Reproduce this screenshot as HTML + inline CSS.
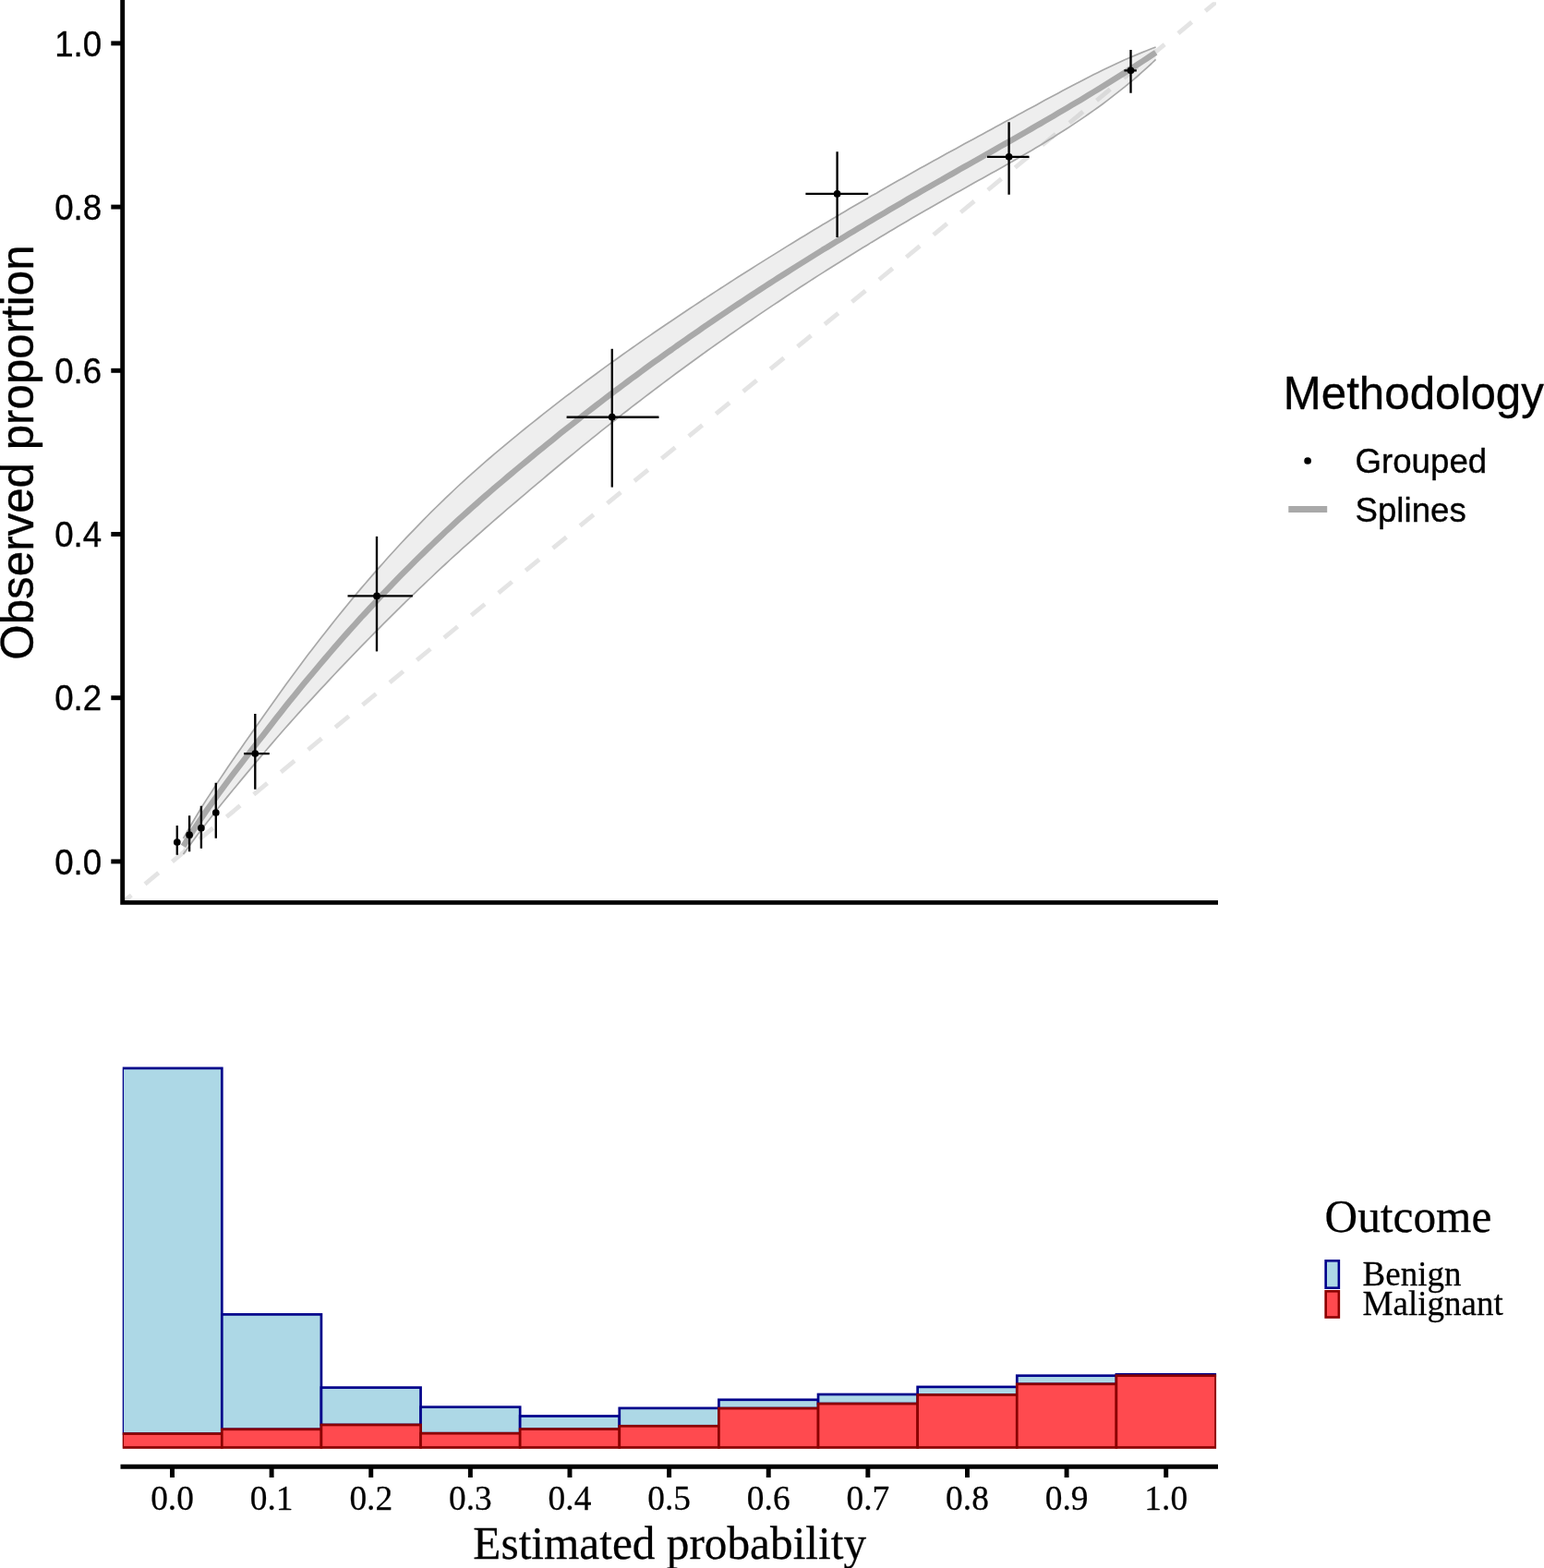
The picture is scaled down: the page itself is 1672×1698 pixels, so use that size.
<!DOCTYPE html>
<html lang="en"><head><meta charset="utf-8"><title>Calibration plot</title>
<style>html,body{margin:0;padding:0;background:#fff}body{width:1672px;height:1698px;overflow:hidden}svg{display:block}.sans{font-family:"Liberation Sans",sans-serif}.serif{font-family:"Liberation Serif",serif}text{fill:#000}</style></head><body>
<svg width="1672" height="1698" viewBox="0 0 1672 1698">
<rect width="1672" height="1698" fill="#fff"/>
<defs><clipPath id="p1"><rect x="132.70" y="2.30" width="1184.30" height="975.03"/></clipPath></defs>
<g clip-path="url(#p1)">
<line x1="132.70" y1="977.33" x2="1316.85" y2="2.30" stroke="#e4e4e4" stroke-width="4.8" stroke-dasharray="19.07 19.07" stroke-dashoffset="6.64"/>
<path d="M198.5,907.8 L203.3,899.4 L208.1,891.2 L212.9,883.2 L217.7,875.3 L222.5,867.6 L227.4,860.1 L232.2,852.7 L237.0,845.4 L241.8,838.2 L246.6,831.1 L251.4,824.1 L256.2,817.1 L261.0,810.2 L265.8,803.3 L270.6,796.4 L275.4,789.5 L280.2,782.7 L285.1,775.8 L289.9,769.0 L294.7,762.2 L299.5,755.4 L304.3,748.7 L309.1,742.1 L313.9,735.5 L318.7,729.0 L323.5,722.5 L328.3,716.0 L333.1,709.6 L338.0,703.3 L342.8,697.1 L347.6,690.8 L352.4,684.7 L357.2,678.6 L362.0,672.5 L366.8,666.5 L371.6,660.6 L376.4,654.7 L381.2,648.9 L386.0,643.1 L390.8,637.4 L395.7,631.7 L400.5,626.1 L405.3,620.6 L410.1,615.1 L414.9,609.7 L419.7,604.3 L424.5,599.0 L429.3,593.7 L434.1,588.5 L438.9,583.4 L443.7,578.3 L448.6,573.3 L453.4,568.3 L458.2,563.4 L463.0,558.5 L467.8,553.7 L472.6,549.0 L477.4,544.3 L482.2,539.6 L487.0,535.1 L491.8,530.5 L496.6,526.0 L501.4,521.6 L506.3,517.2 L511.1,512.9 L515.9,508.6 L520.7,504.4 L525.5,500.2 L530.3,496.0 L535.1,491.9 L539.9,487.8 L544.7,483.8 L549.5,479.8 L554.3,475.8 L559.2,471.9 L564.0,467.9 L568.8,464.0 L573.6,460.2 L578.4,456.3 L583.2,452.5 L588.0,448.7 L592.8,444.9 L597.6,441.1 L602.4,437.4 L607.2,433.6 L612.0,429.9 L616.9,426.3 L621.7,422.6 L626.5,419.0 L631.3,415.4 L636.1,411.8 L640.9,408.2 L645.7,404.7 L650.5,401.1 L655.3,397.6 L660.1,394.1 L664.9,390.7 L669.8,387.2 L674.6,383.8 L679.4,380.4 L684.2,377.0 L689.0,373.6 L693.8,370.3 L698.6,366.9 L703.4,363.6 L708.2,360.3 L713.0,357.0 L717.8,353.7 L722.6,350.5 L727.5,347.2 L732.3,344.0 L737.1,340.8 L741.9,337.5 L746.7,334.3 L751.5,331.1 L756.3,328.0 L761.1,324.8 L765.9,321.6 L770.7,318.5 L775.5,315.4 L780.3,312.2 L785.2,309.1 L790.0,306.0 L794.8,302.9 L799.6,299.8 L804.4,296.8 L809.2,293.7 L814.0,290.7 L818.8,287.6 L823.6,284.6 L828.4,281.6 L833.2,278.6 L838.1,275.6 L842.9,272.6 L847.7,269.6 L852.5,266.6 L857.3,263.7 L862.1,260.7 L866.9,257.8 L871.7,254.9 L876.5,252.0 L881.3,249.0 L886.1,246.2 L890.9,243.3 L895.8,240.4 L900.6,237.5 L905.4,234.7 L910.2,231.8 L915.0,229.0 L919.8,226.1 L924.6,223.3 L929.4,220.5 L934.2,217.7 L939.0,214.9 L943.8,212.1 L948.7,209.4 L953.5,206.6 L958.3,203.8 L963.1,201.1 L967.9,198.3 L972.7,195.6 L977.5,192.9 L982.3,190.2 L987.1,187.5 L991.9,184.8 L996.7,182.1 L1001.5,179.4 L1006.4,176.7 L1011.2,174.1 L1016.0,171.4 L1020.8,168.8 L1025.6,166.1 L1030.4,163.5 L1035.2,160.9 L1040.0,158.2 L1044.8,155.6 L1049.6,153.0 L1054.4,150.4 L1059.3,147.8 L1064.1,145.2 L1068.9,142.6 L1073.7,140.0 L1078.5,137.3 L1083.3,134.7 L1088.1,132.1 L1092.9,129.5 L1097.7,126.9 L1102.5,124.3 L1107.3,121.7 L1112.1,119.1 L1117.0,116.5 L1121.8,113.9 L1126.6,111.2 L1131.4,108.6 L1136.2,106.0 L1141.0,103.4 L1145.8,100.9 L1150.6,98.3 L1155.4,95.7 L1160.2,93.2 L1165.0,90.7 L1169.9,88.2 L1174.7,85.7 L1179.5,83.3 L1184.3,80.8 L1189.1,78.4 L1193.9,76.1 L1198.7,73.8 L1203.5,71.5 L1208.3,69.2 L1213.1,67.0 L1217.9,64.8 L1222.7,62.7 L1227.6,60.6 L1232.4,58.6 L1237.2,56.6 L1242.0,54.7 L1246.8,52.8 L1251.6,51.0 L1251.6,64.4 L1246.8,69.0 L1242.0,73.4 L1237.2,77.7 L1232.4,82.0 L1227.6,86.1 L1222.7,90.1 L1217.9,94.1 L1213.1,97.9 L1208.3,101.7 L1203.5,105.4 L1198.7,109.1 L1193.9,112.7 L1189.1,116.2 L1184.3,119.6 L1179.5,123.0 L1174.7,126.4 L1169.9,129.6 L1165.0,132.9 L1160.2,136.1 L1155.4,139.2 L1150.6,142.3 L1145.8,145.3 L1141.0,148.4 L1136.2,151.3 L1131.4,154.3 L1126.6,157.2 L1121.8,160.0 L1117.0,162.9 L1112.1,165.7 L1107.3,168.5 L1102.5,171.2 L1097.7,174.0 L1092.9,176.7 L1088.1,179.5 L1083.3,182.2 L1078.5,184.9 L1073.7,187.5 L1068.9,190.2 L1064.1,192.9 L1059.3,195.6 L1054.4,198.3 L1049.6,201.0 L1044.8,203.7 L1040.0,206.4 L1035.2,209.1 L1030.4,211.8 L1025.6,214.5 L1020.8,217.2 L1016.0,220.0 L1011.2,222.7 L1006.4,225.5 L1001.5,228.2 L996.7,231.0 L991.9,233.8 L987.1,236.6 L982.3,239.4 L977.5,242.3 L972.7,245.1 L967.9,248.0 L963.1,250.8 L958.3,253.7 L953.5,256.6 L948.7,259.5 L943.8,262.4 L939.0,265.4 L934.2,268.3 L929.4,271.3 L924.6,274.2 L919.8,277.2 L915.0,280.2 L910.2,283.2 L905.4,286.2 L900.6,289.2 L895.8,292.3 L890.9,295.4 L886.1,298.4 L881.3,301.5 L876.5,304.6 L871.7,307.7 L866.9,310.8 L862.1,314.0 L857.3,317.1 L852.5,320.3 L847.7,323.5 L842.9,326.7 L838.1,329.9 L833.2,333.1 L828.4,336.4 L823.6,339.6 L818.8,342.9 L814.0,346.2 L809.2,349.5 L804.4,352.8 L799.6,356.1 L794.8,359.5 L790.0,362.8 L785.2,366.2 L780.3,369.6 L775.5,373.0 L770.7,376.4 L765.9,379.8 L761.1,383.3 L756.3,386.8 L751.5,390.3 L746.7,393.8 L741.9,397.3 L737.1,400.8 L732.3,404.3 L727.5,407.9 L722.6,411.5 L717.8,415.1 L713.0,418.7 L708.2,422.3 L703.4,426.0 L698.6,429.6 L693.8,433.3 L689.0,437.0 L684.2,440.7 L679.4,444.5 L674.6,448.2 L669.8,452.0 L664.9,455.8 L660.1,459.6 L655.3,463.4 L650.5,467.2 L645.7,471.1 L640.9,474.9 L636.1,478.8 L631.3,482.7 L626.5,486.7 L621.7,490.6 L616.9,494.5 L612.0,498.5 L607.2,502.5 L602.4,506.5 L597.6,510.5 L592.8,514.5 L588.0,518.6 L583.2,522.6 L578.4,526.7 L573.6,530.7 L568.8,534.8 L564.0,538.9 L559.2,543.0 L554.3,547.1 L549.5,551.2 L544.7,555.3 L539.9,559.5 L535.1,563.6 L530.3,567.8 L525.5,572.0 L520.7,576.3 L515.9,580.5 L511.1,584.8 L506.3,589.1 L501.4,593.4 L496.6,597.8 L491.8,602.1 L487.0,606.5 L482.2,611.0 L477.4,615.4 L472.6,619.9 L467.8,624.5 L463.0,629.0 L458.2,633.6 L453.4,638.2 L448.6,642.8 L443.7,647.5 L438.9,652.1 L434.1,656.8 L429.3,661.6 L424.5,666.3 L419.7,671.1 L414.9,675.9 L410.1,680.8 L405.3,685.6 L400.5,690.5 L395.7,695.4 L390.8,700.4 L386.0,705.3 L381.2,710.3 L376.4,715.3 L371.6,720.4 L366.8,725.4 L362.0,730.5 L357.2,735.6 L352.4,740.8 L347.6,745.9 L342.8,751.1 L338.0,756.3 L333.1,761.6 L328.3,766.8 L323.5,772.1 L318.7,777.5 L313.9,782.9 L309.1,788.3 L304.3,793.8 L299.5,799.3 L294.7,804.9 L289.9,810.5 L285.1,816.2 L280.2,821.9 L275.4,827.6 L270.6,833.4 L265.8,839.1 L261.0,844.9 L256.2,850.7 L251.4,856.5 L246.6,862.4 L241.8,868.3 L237.0,874.3 L232.2,880.4 L227.4,886.5 L222.5,892.7 L217.7,899.0 L212.9,905.3 L208.1,911.8 L203.3,918.4 L198.5,925.1Z" fill="#c0c0c0" fill-opacity="0.27" stroke="none"/>
<path d="M198.5,907.8 L203.3,899.4 L208.1,891.2 L212.9,883.2 L217.7,875.3 L222.5,867.6 L227.4,860.1 L232.2,852.7 L237.0,845.4 L241.8,838.2 L246.6,831.1 L251.4,824.1 L256.2,817.1 L261.0,810.2 L265.8,803.3 L270.6,796.4 L275.4,789.5 L280.2,782.7 L285.1,775.8 L289.9,769.0 L294.7,762.2 L299.5,755.4 L304.3,748.7 L309.1,742.1 L313.9,735.5 L318.7,729.0 L323.5,722.5 L328.3,716.0 L333.1,709.6 L338.0,703.3 L342.8,697.1 L347.6,690.8 L352.4,684.7 L357.2,678.6 L362.0,672.5 L366.8,666.5 L371.6,660.6 L376.4,654.7 L381.2,648.9 L386.0,643.1 L390.8,637.4 L395.7,631.7 L400.5,626.1 L405.3,620.6 L410.1,615.1 L414.9,609.7 L419.7,604.3 L424.5,599.0 L429.3,593.7 L434.1,588.5 L438.9,583.4 L443.7,578.3 L448.6,573.3 L453.4,568.3 L458.2,563.4 L463.0,558.5 L467.8,553.7 L472.6,549.0 L477.4,544.3 L482.2,539.6 L487.0,535.1 L491.8,530.5 L496.6,526.0 L501.4,521.6 L506.3,517.2 L511.1,512.9 L515.9,508.6 L520.7,504.4 L525.5,500.2 L530.3,496.0 L535.1,491.9 L539.9,487.8 L544.7,483.8 L549.5,479.8 L554.3,475.8 L559.2,471.9 L564.0,467.9 L568.8,464.0 L573.6,460.2 L578.4,456.3 L583.2,452.5 L588.0,448.7 L592.8,444.9 L597.6,441.1 L602.4,437.4 L607.2,433.6 L612.0,429.9 L616.9,426.3 L621.7,422.6 L626.5,419.0 L631.3,415.4 L636.1,411.8 L640.9,408.2 L645.7,404.7 L650.5,401.1 L655.3,397.6 L660.1,394.1 L664.9,390.7 L669.8,387.2 L674.6,383.8 L679.4,380.4 L684.2,377.0 L689.0,373.6 L693.8,370.3 L698.6,366.9 L703.4,363.6 L708.2,360.3 L713.0,357.0 L717.8,353.7 L722.6,350.5 L727.5,347.2 L732.3,344.0 L737.1,340.8 L741.9,337.5 L746.7,334.3 L751.5,331.1 L756.3,328.0 L761.1,324.8 L765.9,321.6 L770.7,318.5 L775.5,315.4 L780.3,312.2 L785.2,309.1 L790.0,306.0 L794.8,302.9 L799.6,299.8 L804.4,296.8 L809.2,293.7 L814.0,290.7 L818.8,287.6 L823.6,284.6 L828.4,281.6 L833.2,278.6 L838.1,275.6 L842.9,272.6 L847.7,269.6 L852.5,266.6 L857.3,263.7 L862.1,260.7 L866.9,257.8 L871.7,254.9 L876.5,252.0 L881.3,249.0 L886.1,246.2 L890.9,243.3 L895.8,240.4 L900.6,237.5 L905.4,234.7 L910.2,231.8 L915.0,229.0 L919.8,226.1 L924.6,223.3 L929.4,220.5 L934.2,217.7 L939.0,214.9 L943.8,212.1 L948.7,209.4 L953.5,206.6 L958.3,203.8 L963.1,201.1 L967.9,198.3 L972.7,195.6 L977.5,192.9 L982.3,190.2 L987.1,187.5 L991.9,184.8 L996.7,182.1 L1001.5,179.4 L1006.4,176.7 L1011.2,174.1 L1016.0,171.4 L1020.8,168.8 L1025.6,166.1 L1030.4,163.5 L1035.2,160.9 L1040.0,158.2 L1044.8,155.6 L1049.6,153.0 L1054.4,150.4 L1059.3,147.8 L1064.1,145.2 L1068.9,142.6 L1073.7,140.0 L1078.5,137.3 L1083.3,134.7 L1088.1,132.1 L1092.9,129.5 L1097.7,126.9 L1102.5,124.3 L1107.3,121.7 L1112.1,119.1 L1117.0,116.5 L1121.8,113.9 L1126.6,111.2 L1131.4,108.6 L1136.2,106.0 L1141.0,103.4 L1145.8,100.9 L1150.6,98.3 L1155.4,95.7 L1160.2,93.2 L1165.0,90.7 L1169.9,88.2 L1174.7,85.7 L1179.5,83.3 L1184.3,80.8 L1189.1,78.4 L1193.9,76.1 L1198.7,73.8 L1203.5,71.5 L1208.3,69.2 L1213.1,67.0 L1217.9,64.8 L1222.7,62.7 L1227.6,60.6 L1232.4,58.6 L1237.2,56.6 L1242.0,54.7 L1246.8,52.8 L1251.6,51.0" fill="none" stroke="#a8a8a8" stroke-width="1.7" stroke-linejoin="round"/>
<path d="M198.5,925.1 L203.3,918.4 L208.1,911.8 L212.9,905.3 L217.7,899.0 L222.5,892.7 L227.4,886.5 L232.2,880.4 L237.0,874.3 L241.8,868.3 L246.6,862.4 L251.4,856.5 L256.2,850.7 L261.0,844.9 L265.8,839.1 L270.6,833.4 L275.4,827.6 L280.2,821.9 L285.1,816.2 L289.9,810.5 L294.7,804.9 L299.5,799.3 L304.3,793.8 L309.1,788.3 L313.9,782.9 L318.7,777.5 L323.5,772.1 L328.3,766.8 L333.1,761.6 L338.0,756.3 L342.8,751.1 L347.6,745.9 L352.4,740.8 L357.2,735.6 L362.0,730.5 L366.8,725.4 L371.6,720.4 L376.4,715.3 L381.2,710.3 L386.0,705.3 L390.8,700.4 L395.7,695.4 L400.5,690.5 L405.3,685.6 L410.1,680.8 L414.9,675.9 L419.7,671.1 L424.5,666.3 L429.3,661.6 L434.1,656.8 L438.9,652.1 L443.7,647.5 L448.6,642.8 L453.4,638.2 L458.2,633.6 L463.0,629.0 L467.8,624.5 L472.6,619.9 L477.4,615.4 L482.2,611.0 L487.0,606.5 L491.8,602.1 L496.6,597.8 L501.4,593.4 L506.3,589.1 L511.1,584.8 L515.9,580.5 L520.7,576.3 L525.5,572.0 L530.3,567.8 L535.1,563.6 L539.9,559.5 L544.7,555.3 L549.5,551.2 L554.3,547.1 L559.2,543.0 L564.0,538.9 L568.8,534.8 L573.6,530.7 L578.4,526.7 L583.2,522.6 L588.0,518.6 L592.8,514.5 L597.6,510.5 L602.4,506.5 L607.2,502.5 L612.0,498.5 L616.9,494.5 L621.7,490.6 L626.5,486.7 L631.3,482.7 L636.1,478.8 L640.9,474.9 L645.7,471.1 L650.5,467.2 L655.3,463.4 L660.1,459.6 L664.9,455.8 L669.8,452.0 L674.6,448.2 L679.4,444.5 L684.2,440.7 L689.0,437.0 L693.8,433.3 L698.6,429.6 L703.4,426.0 L708.2,422.3 L713.0,418.7 L717.8,415.1 L722.6,411.5 L727.5,407.9 L732.3,404.3 L737.1,400.8 L741.9,397.3 L746.7,393.8 L751.5,390.3 L756.3,386.8 L761.1,383.3 L765.9,379.8 L770.7,376.4 L775.5,373.0 L780.3,369.6 L785.2,366.2 L790.0,362.8 L794.8,359.5 L799.6,356.1 L804.4,352.8 L809.2,349.5 L814.0,346.2 L818.8,342.9 L823.6,339.6 L828.4,336.4 L833.2,333.1 L838.1,329.9 L842.9,326.7 L847.7,323.5 L852.5,320.3 L857.3,317.1 L862.1,314.0 L866.9,310.8 L871.7,307.7 L876.5,304.6 L881.3,301.5 L886.1,298.4 L890.9,295.4 L895.8,292.3 L900.6,289.2 L905.4,286.2 L910.2,283.2 L915.0,280.2 L919.8,277.2 L924.6,274.2 L929.4,271.3 L934.2,268.3 L939.0,265.4 L943.8,262.4 L948.7,259.5 L953.5,256.6 L958.3,253.7 L963.1,250.8 L967.9,248.0 L972.7,245.1 L977.5,242.3 L982.3,239.4 L987.1,236.6 L991.9,233.8 L996.7,231.0 L1001.5,228.2 L1006.4,225.5 L1011.2,222.7 L1016.0,220.0 L1020.8,217.2 L1025.6,214.5 L1030.4,211.8 L1035.2,209.1 L1040.0,206.4 L1044.8,203.7 L1049.6,201.0 L1054.4,198.3 L1059.3,195.6 L1064.1,192.9 L1068.9,190.2 L1073.7,187.5 L1078.5,184.9 L1083.3,182.2 L1088.1,179.5 L1092.9,176.7 L1097.7,174.0 L1102.5,171.2 L1107.3,168.5 L1112.1,165.7 L1117.0,162.9 L1121.8,160.0 L1126.6,157.2 L1131.4,154.3 L1136.2,151.3 L1141.0,148.4 L1145.8,145.3 L1150.6,142.3 L1155.4,139.2 L1160.2,136.1 L1165.0,132.9 L1169.9,129.6 L1174.7,126.4 L1179.5,123.0 L1184.3,119.6 L1189.1,116.2 L1193.9,112.7 L1198.7,109.1 L1203.5,105.4 L1208.3,101.7 L1213.1,97.9 L1217.9,94.1 L1222.7,90.1 L1227.6,86.1 L1232.4,82.0 L1237.2,77.7 L1242.0,73.4 L1246.8,69.0 L1251.6,64.4" fill="none" stroke="#a8a8a8" stroke-width="1.7" stroke-linejoin="round"/>
<path d="M198.5,916.4 L203.3,908.6 L208.1,901.0 L212.9,893.7 L217.7,886.5 L222.5,879.4 L227.4,872.5 L232.2,865.8 L237.0,859.1 L241.8,852.6 L246.6,846.1 L251.4,839.7 L256.2,833.4 L261.0,827.1 L265.8,820.9 L270.6,814.6 L275.4,808.4 L280.2,802.1 L285.1,795.9 L289.9,789.7 L294.7,783.5 L299.5,777.3 L304.3,771.2 L309.1,765.1 L313.9,759.1 L318.7,753.2 L323.5,747.2 L328.3,741.3 L333.1,735.5 L338.0,729.7 L342.8,724.0 L347.6,718.3 L352.4,712.6 L357.2,707.0 L362.0,701.4 L366.8,695.9 L371.6,690.4 L376.4,685.0 L381.2,679.6 L386.0,674.3 L390.8,668.9 L395.7,663.7 L400.5,658.5 L405.3,653.3 L410.1,648.1 L414.9,643.0 L419.7,638.0 L424.5,633.0 L429.3,628.0 L434.1,623.1 L438.9,618.2 L443.7,613.4 L448.6,608.5 L453.4,603.8 L458.2,599.1 L463.0,594.4 L467.8,589.7 L472.6,585.1 L477.4,580.6 L482.2,576.0 L487.0,571.6 L491.8,567.1 L496.6,562.7 L501.4,558.3 L506.3,554.0 L511.1,549.7 L515.9,545.5 L520.7,541.2 L525.5,537.0 L530.3,532.9 L535.1,528.7 L539.9,524.6 L544.7,520.6 L549.5,516.5 L554.3,512.5 L559.2,508.4 L564.0,504.4 L568.8,500.5 L573.6,496.5 L578.4,492.5 L583.2,488.6 L588.0,484.7 L592.8,480.8 L597.6,476.9 L602.4,473.0 L607.2,469.1 L612.0,465.3 L616.9,461.5 L621.7,457.7 L626.5,453.9 L631.3,450.1 L636.1,446.3 L640.9,442.6 L645.7,438.9 L650.5,435.2 L655.3,431.5 L660.1,427.9 L664.9,424.2 L669.8,420.6 L674.6,417.0 L679.4,413.4 L684.2,409.8 L689.0,406.3 L693.8,402.7 L698.6,399.2 L703.4,395.7 L708.2,392.2 L713.0,388.8 L717.8,385.3 L722.6,381.9 L727.5,378.5 L732.3,375.0 L737.1,371.7 L741.9,368.3 L746.7,364.9 L751.5,361.6 L756.3,358.3 L761.1,354.9 L765.9,351.7 L770.7,348.4 L775.5,345.1 L780.3,341.9 L785.2,338.6 L790.0,335.4 L794.8,332.2 L799.6,329.0 L804.4,325.8 L809.2,322.6 L814.0,319.5 L818.8,316.3 L823.6,313.2 L828.4,310.1 L833.2,307.0 L838.1,303.9 L842.9,300.8 L847.7,297.7 L852.5,294.7 L857.3,291.6 L862.1,288.6 L866.9,285.6 L871.7,282.6 L876.5,279.6 L881.3,276.6 L886.1,273.6 L890.9,270.6 L895.8,267.7 L900.6,264.7 L905.4,261.8 L910.2,258.9 L915.0,256.0 L919.8,253.1 L924.6,250.2 L929.4,247.3 L934.2,244.4 L939.0,241.5 L943.8,238.7 L948.7,235.8 L953.5,233.0 L958.3,230.2 L963.1,227.3 L967.9,224.5 L972.7,221.7 L977.5,218.9 L982.3,216.1 L987.1,213.3 L991.9,210.6 L996.7,207.8 L1001.5,205.0 L1006.4,202.3 L1011.2,199.5 L1016.0,196.8 L1020.8,194.1 L1025.6,191.3 L1030.4,188.6 L1035.2,185.9 L1040.0,183.1 L1044.8,180.4 L1049.6,177.7 L1054.4,175.0 L1059.3,172.2 L1064.1,169.5 L1068.9,166.8 L1073.7,164.1 L1078.5,161.4 L1083.3,158.6 L1088.1,155.9 L1092.9,153.2 L1097.7,150.4 L1102.5,147.7 L1107.3,144.9 L1112.1,142.2 L1117.0,139.4 L1121.8,136.6 L1126.6,133.9 L1131.4,131.1 L1136.2,128.3 L1141.0,125.5 L1145.8,122.6 L1150.6,119.8 L1155.4,117.0 L1160.2,114.1 L1165.0,111.3 L1169.9,108.4 L1174.7,105.5 L1179.5,102.6 L1184.3,99.6 L1189.1,96.7 L1193.9,93.8 L1198.7,90.8 L1203.5,87.8 L1208.3,84.8 L1213.1,81.8 L1217.9,78.7 L1222.7,75.6 L1227.6,72.6 L1232.4,69.5 L1237.2,66.3 L1242.0,63.2 L1246.8,60.0 L1251.6,56.8" fill="none" stroke="#a9a9a9" stroke-width="6.4" stroke-linejoin="round"/>
<line x1="191.8" y1="893.9" x2="191.8" y2="925.8" stroke="#000" stroke-width="2.35"/>
<circle cx="191.8" cy="912.0" r="3.85" fill="#000"/>
<line x1="205.1" y1="883.2" x2="205.1" y2="922.3" stroke="#000" stroke-width="2.35"/>
<circle cx="205.1" cy="904.2" r="3.85" fill="#000"/>
<line x1="217.9" y1="872.8" x2="217.9" y2="918.7" stroke="#000" stroke-width="2.35"/>
<circle cx="217.9" cy="896.7" r="3.85" fill="#000"/>
<line x1="233.8" y1="847.8" x2="233.8" y2="907.8" stroke="#000" stroke-width="2.35"/>
<circle cx="233.8" cy="880.0" r="3.85" fill="#000"/>
<line x1="276.3" y1="772.9" x2="276.3" y2="854.8" stroke="#000" stroke-width="2.35"/>
<line x1="264.1" y1="816.1" x2="291.8" y2="816.1" stroke="#000" stroke-width="2.35"/>
<circle cx="276.3" cy="816.1" r="3.85" fill="#000"/>
<line x1="408.0" y1="580.9" x2="408.0" y2="705.4" stroke="#000" stroke-width="2.35"/>
<line x1="376.5" y1="645.4" x2="446.9" y2="645.4" stroke="#000" stroke-width="2.35"/>
<circle cx="408.0" cy="645.4" r="3.85" fill="#000"/>
<line x1="662.8" y1="377.8" x2="662.8" y2="527.6" stroke="#000" stroke-width="2.35"/>
<line x1="613.6" y1="451.7" x2="713.5" y2="451.7" stroke="#000" stroke-width="2.35"/>
<circle cx="662.8" cy="451.7" r="3.85" fill="#000"/>
<line x1="906.6" y1="164.2" x2="906.6" y2="257.0" stroke="#000" stroke-width="2.35"/>
<line x1="872.4" y1="209.9" x2="940.2" y2="209.9" stroke="#000" stroke-width="2.35"/>
<circle cx="906.6" cy="209.9" r="3.85" fill="#000"/>
<line x1="1092.6" y1="132.3" x2="1092.6" y2="210.7" stroke="#000" stroke-width="2.35"/>
<line x1="1069.0" y1="169.8" x2="1114.5" y2="169.8" stroke="#000" stroke-width="2.35"/>
<circle cx="1092.6" cy="169.8" r="3.85" fill="#000"/>
<line x1="1224.5" y1="54.0" x2="1224.5" y2="100.7" stroke="#000" stroke-width="2.35"/>
<line x1="1217.4" y1="76.3" x2="1230.8" y2="76.3" stroke="#000" stroke-width="2.35"/>
<circle cx="1224.5" cy="76.3" r="3.85" fill="#000"/>
</g>
<path d="M132.70,-3 L132.70,977.33 L1319.00,977.33" fill="none" stroke="#000" stroke-width="4.90" stroke-linejoin="miter"/>
<line x1="120.30" y1="932.90" x2="132.70" y2="932.90" stroke="#000" stroke-width="4.95"/>
<text class="sans" font-size="36.67" text-anchor="end" stroke="#000" stroke-width="0.35" stroke-linejoin="round" transform="translate(110.10,946.60) scale(1.0000,1.0350)">0.0</text>
<line x1="120.30" y1="755.70" x2="132.70" y2="755.70" stroke="#000" stroke-width="4.95"/>
<text class="sans" font-size="36.67" text-anchor="end" stroke="#000" stroke-width="0.35" stroke-linejoin="round" transform="translate(110.10,769.40) scale(1.0000,1.0350)">0.2</text>
<line x1="120.30" y1="578.50" x2="132.70" y2="578.50" stroke="#000" stroke-width="4.95"/>
<text class="sans" font-size="36.67" text-anchor="end" stroke="#000" stroke-width="0.35" stroke-linejoin="round" transform="translate(110.10,592.20) scale(1.0000,1.0350)">0.4</text>
<line x1="120.30" y1="401.30" x2="132.70" y2="401.30" stroke="#000" stroke-width="4.95"/>
<text class="sans" font-size="36.67" text-anchor="end" stroke="#000" stroke-width="0.35" stroke-linejoin="round" transform="translate(110.10,415.00) scale(1.0000,1.0350)">0.6</text>
<line x1="120.30" y1="224.10" x2="132.70" y2="224.10" stroke="#000" stroke-width="4.95"/>
<text class="sans" font-size="36.67" text-anchor="end" stroke="#000" stroke-width="0.35" stroke-linejoin="round" transform="translate(110.10,237.80) scale(1.0000,1.0350)">0.8</text>
<line x1="120.30" y1="46.90" x2="132.70" y2="46.90" stroke="#000" stroke-width="4.95"/>
<text class="sans" font-size="36.67" text-anchor="end" stroke="#000" stroke-width="0.35" stroke-linejoin="round" transform="translate(110.10,60.60) scale(1.0000,1.0350)">1.0</text>
<text class="sans" font-size="49.30" text-anchor="middle" stroke="#000" stroke-width="0.35" stroke-linejoin="round" transform="translate(36.10,490.00) rotate(-90) scale(1.0000,1.0150)">Observed proportion</text>
<text class="sans" font-size="49.30" stroke="#000" stroke-width="0.35" stroke-linejoin="round" transform="translate(1389.70,443.20) scale(1.0000,1.0150)">Methodology</text>
<circle cx="1416.1" cy="499" r="3.85" fill="#000"/>
<text class="sans" font-size="36.67" stroke="#000" stroke-width="0.35" stroke-linejoin="round" transform="translate(1467.50,512.00) scale(1.0000,1.0150)">Grouped</text>
<line x1="1395.3" y1="551.5" x2="1437.2" y2="551.5" stroke="#a9a9a9" stroke-width="6.9"/>
<text class="sans" font-size="36.67" stroke="#000" stroke-width="0.35" stroke-linejoin="round" transform="translate(1467.50,564.70) scale(1.0000,1.0150)">Splines</text>
<defs><clipPath id="p2"><rect x="132.75" y="1100" width="1184.35" height="480"/></clipPath></defs><g clip-path="url(#p2)">
<rect x="132.69" y="1156.80" width="107.62" height="395.80" fill="#add8e6" stroke="#00008b" stroke-width="2.70"/>
<rect x="240.31" y="1423.40" width="107.62" height="124.40" fill="#add8e6" stroke="#00008b" stroke-width="2.70"/>
<rect x="347.93" y="1502.60" width="107.62" height="40.40" fill="#add8e6" stroke="#00008b" stroke-width="2.70"/>
<rect x="455.55" y="1523.70" width="107.62" height="28.50" fill="#add8e6" stroke="#00008b" stroke-width="2.70"/>
<rect x="563.17" y="1533.50" width="107.62" height="14.10" fill="#add8e6" stroke="#00008b" stroke-width="2.70"/>
<rect x="670.79" y="1524.90" width="107.62" height="19.40" fill="#add8e6" stroke="#00008b" stroke-width="2.70"/>
<rect x="778.41" y="1515.80" width="107.62" height="9.30" fill="#add8e6" stroke="#00008b" stroke-width="2.70"/>
<rect x="886.03" y="1510.00" width="107.62" height="10.10" fill="#add8e6" stroke="#00008b" stroke-width="2.70"/>
<rect x="993.65" y="1501.90" width="107.62" height="8.60" fill="#add8e6" stroke="#00008b" stroke-width="2.70"/>
<rect x="1101.27" y="1489.70" width="107.62" height="9.10" fill="#add8e6" stroke="#00008b" stroke-width="2.70"/>
<rect x="1208.89" y="1488.30" width="107.62" height="1.40" fill="#add8e6" stroke="#00008b" stroke-width="2.70"/>
<rect x="132.69" y="1552.60" width="107.62" height="14.90" fill="#ff4a4f" stroke="#8b0000" stroke-width="2.70"/>
<rect x="240.31" y="1547.80" width="107.62" height="19.70" fill="#ff4a4f" stroke="#8b0000" stroke-width="2.70"/>
<rect x="347.93" y="1543.00" width="107.62" height="24.50" fill="#ff4a4f" stroke="#8b0000" stroke-width="2.70"/>
<rect x="455.55" y="1552.20" width="107.62" height="15.30" fill="#ff4a4f" stroke="#8b0000" stroke-width="2.70"/>
<rect x="563.17" y="1547.60" width="107.62" height="19.90" fill="#ff4a4f" stroke="#8b0000" stroke-width="2.70"/>
<rect x="670.79" y="1544.30" width="107.62" height="23.20" fill="#ff4a4f" stroke="#8b0000" stroke-width="2.70"/>
<rect x="778.41" y="1525.10" width="107.62" height="42.40" fill="#ff4a4f" stroke="#8b0000" stroke-width="2.70"/>
<rect x="886.03" y="1520.10" width="107.62" height="47.40" fill="#ff4a4f" stroke="#8b0000" stroke-width="2.70"/>
<rect x="993.65" y="1510.50" width="107.62" height="57.00" fill="#ff4a4f" stroke="#8b0000" stroke-width="2.70"/>
<rect x="1101.27" y="1498.80" width="107.62" height="68.70" fill="#ff4a4f" stroke="#8b0000" stroke-width="2.70"/>
<rect x="1208.89" y="1489.70" width="107.62" height="77.80" fill="#ff4a4f" stroke="#8b0000" stroke-width="2.70"/>
</g>
<line x1="130.50" y1="1588.17" x2="1319.00" y2="1588.17" stroke="#000" stroke-width="5.00"/>
<line x1="186.50" y1="1588.17" x2="186.50" y2="1600.00" stroke="#000" stroke-width="4.95"/>
<text class="serif" font-size="36.67" text-anchor="middle" stroke="#000" stroke-width="0.25" stroke-linejoin="round" transform="translate(186.50,1634.60) scale(1.0200,1.0500)">0.0</text>
<line x1="294.12" y1="1588.17" x2="294.12" y2="1600.00" stroke="#000" stroke-width="4.95"/>
<text class="serif" font-size="36.67" text-anchor="middle" stroke="#000" stroke-width="0.25" stroke-linejoin="round" transform="translate(294.12,1634.60) scale(1.0200,1.0500)">0.1</text>
<line x1="401.74" y1="1588.17" x2="401.74" y2="1600.00" stroke="#000" stroke-width="4.95"/>
<text class="serif" font-size="36.67" text-anchor="middle" stroke="#000" stroke-width="0.25" stroke-linejoin="round" transform="translate(401.74,1634.60) scale(1.0200,1.0500)">0.2</text>
<line x1="509.36" y1="1588.17" x2="509.36" y2="1600.00" stroke="#000" stroke-width="4.95"/>
<text class="serif" font-size="36.67" text-anchor="middle" stroke="#000" stroke-width="0.25" stroke-linejoin="round" transform="translate(509.36,1634.60) scale(1.0200,1.0500)">0.3</text>
<line x1="616.98" y1="1588.17" x2="616.98" y2="1600.00" stroke="#000" stroke-width="4.95"/>
<text class="serif" font-size="36.67" text-anchor="middle" stroke="#000" stroke-width="0.25" stroke-linejoin="round" transform="translate(616.98,1634.60) scale(1.0200,1.0500)">0.4</text>
<line x1="724.60" y1="1588.17" x2="724.60" y2="1600.00" stroke="#000" stroke-width="4.95"/>
<text class="serif" font-size="36.67" text-anchor="middle" stroke="#000" stroke-width="0.25" stroke-linejoin="round" transform="translate(724.60,1634.60) scale(1.0200,1.0500)">0.5</text>
<line x1="832.22" y1="1588.17" x2="832.22" y2="1600.00" stroke="#000" stroke-width="4.95"/>
<text class="serif" font-size="36.67" text-anchor="middle" stroke="#000" stroke-width="0.25" stroke-linejoin="round" transform="translate(832.22,1634.60) scale(1.0200,1.0500)">0.6</text>
<line x1="939.84" y1="1588.17" x2="939.84" y2="1600.00" stroke="#000" stroke-width="4.95"/>
<text class="serif" font-size="36.67" text-anchor="middle" stroke="#000" stroke-width="0.25" stroke-linejoin="round" transform="translate(939.84,1634.60) scale(1.0200,1.0500)">0.7</text>
<line x1="1047.46" y1="1588.17" x2="1047.46" y2="1600.00" stroke="#000" stroke-width="4.95"/>
<text class="serif" font-size="36.67" text-anchor="middle" stroke="#000" stroke-width="0.25" stroke-linejoin="round" transform="translate(1047.46,1634.60) scale(1.0200,1.0500)">0.8</text>
<line x1="1155.08" y1="1588.17" x2="1155.08" y2="1600.00" stroke="#000" stroke-width="4.95"/>
<text class="serif" font-size="36.67" text-anchor="middle" stroke="#000" stroke-width="0.25" stroke-linejoin="round" transform="translate(1155.08,1634.60) scale(1.0200,1.0500)">0.9</text>
<line x1="1262.70" y1="1588.17" x2="1262.70" y2="1600.00" stroke="#000" stroke-width="4.95"/>
<text class="serif" font-size="36.67" text-anchor="middle" stroke="#000" stroke-width="0.25" stroke-linejoin="round" transform="translate(1262.70,1634.60) scale(1.0200,1.0500)">1.0</text>
<text class="serif" font-size="49.30" text-anchor="middle" stroke="#000" stroke-width="0.25" stroke-linejoin="round" transform="translate(725.20,1687.80) scale(1.0000,1.0350)">Estimated probability</text>
<text class="serif" font-size="49.30" stroke="#000" stroke-width="0.25" stroke-linejoin="round" transform="translate(1434.60,1333.70) scale(1.0000,1.0350)">Outcome</text>
<rect x="1435.65" y="1365.3" width="14.2" height="29.4" fill="#add8e6" stroke="#00008b" stroke-width="2.6"/>
<rect x="1435.65" y="1398.3" width="14.2" height="28.2" fill="#ff4a4f" stroke="#8b0000" stroke-width="2.6"/>
<text class="serif" font-size="36.67" stroke="#000" stroke-width="0.25" stroke-linejoin="round" transform="translate(1475.60,1392.10) scale(1.0100,1.0350)">Benign</text>
<text class="serif" font-size="36.67" stroke="#000" stroke-width="0.25" stroke-linejoin="round" transform="translate(1475.60,1424.30) scale(1.0100,1.0350)">Malignant</text>
</svg></body></html>
